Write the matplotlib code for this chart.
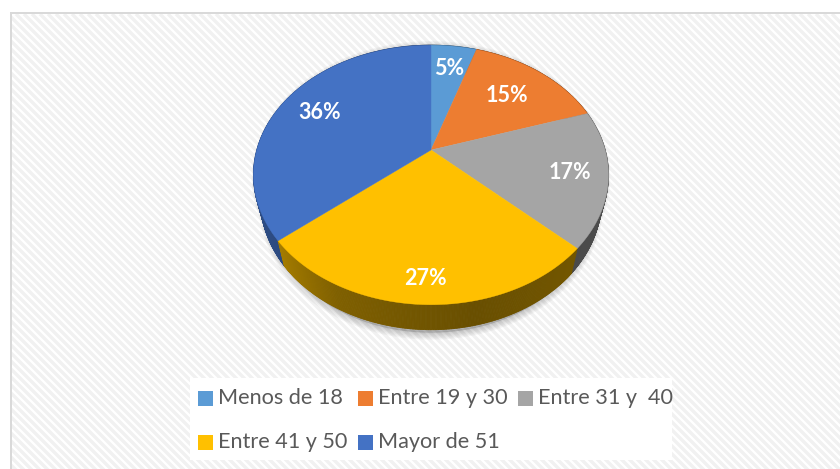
import numpy as np
import matplotlib
matplotlib.use("Agg")
import matplotlib.pyplot as plt
from matplotlib.collections import LineCollection, PolyCollection
from matplotlib.patches import Polygon, Rectangle

# datos del grafico
categories = ["Menos de 18", "Entre 19 y 30", "Entre 31 y  40", "Entre 41 y 50", "Mayor de 51"]
percent = [5, 15, 17, 27, 36]
colors = ["#5B9BD5", "#ED7D31", "#A5A5A5", "#FFC000", "#4472C4"]
label_radius = [0.75, 0.67, 0.79, 0.86, 0.75]

# pie 3D: el centro no cae en el centro de la elipse (perspectiva)
CX, CY = 431, 150
A, B, K = 174.2, 125.0, 0.192
DEPTH, SHRINK = 25, 0.96

plt.rcParams["font.family"] = ["Lato", "DejaVu Sans"]


def project(r, t):
    """t en radianes, horario desde arriba"""
    u = r * np.sin(t)
    v = r * np.cos(t)
    w = 1 + K * v
    return CX + A * u / w, CY - B * v / w


def lower(x, y):
    return CX + SHRINK * (x - CX), y + DEPTH


def wall_shade(t):
    u = np.sin(t)
    return np.interp(u, [-1, -0.8, -0.45, 0.2, 1], [0.68, 0.66, 0.5, 0.41, 0.47])


fig = plt.figure(figsize=(8.4, 4.69), dpi=100)
ax = fig.add_axes([0, 0, 1, 1])
ax.set_xlim(0, 840)
ax.set_ylim(469, 0)
ax.axis("off")

# fondo rayado
stripes = [[(c, 14), (c + 1000, 1014)] for c in range(-480, 840, 8)]
bg = LineCollection(stripes, colors="#F1F1F1", linewidths=2.4, zorder=1)
ax.add_collection(bg)
bg.set_clip_path(Rectangle((12, 14), 828, 455, transform=ax.transData))
ax.add_patch(Rectangle((10, 12), 830, 2, fc="#D9D9D9", ec="none", zorder=2))
ax.add_patch(Rectangle((10, 12), 2, 457, fc="#D9D9D9", ec="none", zorder=2))

# sombra difusa, solo asoma por abajo
tt = np.linspace(0, 2 * np.pi, 361)
xs, ys = project(1.0, tt)
lx, ly = lower(xs, ys)
outline = np.concatenate([np.column_stack([xs, ys]), np.column_stack([lx, ly])[::-1]])
shadow = outline.copy()
shadow[:, 0] = CX + 0.97 * (shadow[:, 0] - CX)
shadow[:, 1] += 3
for lw in np.arange(10, 0, -2):
    ax.add_patch(Polygon(shadow, closed=True, fc="#404040", ec="#404040", lw=lw,
                         alpha=0.05, joinstyle="round", zorder=3))

# paredes y tapa
edges = np.cumsum([0] + percent) / sum(percent) * 2 * np.pi
quads, quad_cols, quad_depth = [], [], []
for i, col in enumerate(colors):
    base = np.array(matplotlib.colors.to_rgb(col))
    ts = np.linspace(edges[i], edges[i + 1], max(int(percent[i] * 8), 4))
    for t0, t1 in zip(ts[:-1], ts[1:]):
        x0, y0 = project(1.0, t0)
        x1, y1 = project(1.0, t1)
        quads.append([(x0, y0), (x1, y1), lower(x1, y1), lower(x0, y0)])
        quad_cols.append(base * wall_shade((t0 + t1) / 2))
        quad_depth.append(-np.cos((t0 + t1) / 2))
order = np.argsort(quad_depth)
ax.add_collection(PolyCollection([quads[j] for j in order], facecolors=[quad_cols[j] for j in order],
                                 edgecolors=[quad_cols[j] for j in order], linewidths=0.6, zorder=4))

for i, col in enumerate(colors):
    ts = np.linspace(edges[i], edges[i + 1], 120)
    x, y = project(1.0, ts)
    pts = np.column_stack([np.r_[CX, x], np.r_[CY, y]])
    ax.add_patch(Polygon(pts, closed=True, fc=col, ec=col, lw=0.3, zorder=5))

    mid = (edges[i] + edges[i + 1]) / 2
    tx, ty = project(label_radius[i], mid)
    ax.text(tx, ty, f"{percent[i]}%", color="white", fontsize=15.5, fontweight="bold",
            ha="center", va="center", zorder=6)

# leyenda
ax.add_patch(Rectangle((190, 378), 482, 82, fc="white", ec="none", zorder=2))
swatch_x = [198, 358, 518, 198, 358]
swatch_y = [391, 391, 391, 435, 435]
for name, col, sx, sy in zip(categories, colors, swatch_x, swatch_y):
    ax.add_patch(Rectangle((sx, sy), 15, 15, fc=col, ec="none", zorder=3))
    ax.text(sx + 20, sy + 7, name, color="#595959", fontsize=15.6, ha="left", va="center", zorder=3)

fig.savefig("out.png", dpi=100)
